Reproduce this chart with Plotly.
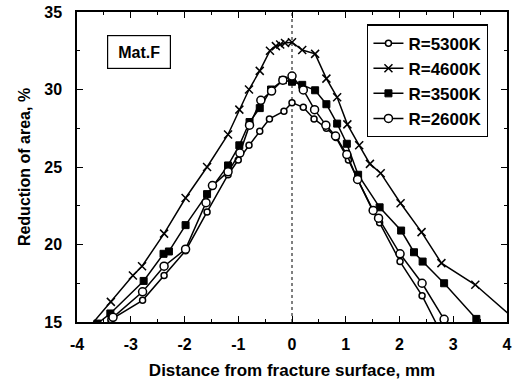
import plotly.graph_objects as go

# ---- data ----
x_5300 = [-3.6, -3.37, -2.78, -2.38, -1.98, -1.58, -1.19, -1.0, -0.8, -0.6, -0.42, -0.15, 0.0,
          0.21, 0.41, 0.64, 0.82, 1.05, 1.22, 1.5, 1.63, 2.01, 2.42, 2.95]
y_5300 = [14.4, 15.15, 16.4, 18.0, 19.6, 22.1, 24.5, 25.45, 26.4, 27.3, 28.1, 28.6, 29.15,
          28.85, 28.1, 27.5, 26.9, 25.45, 24.2, 22.2, 21.4, 18.9, 16.7, 13.1]

x_4600 = [-3.8, -3.37, -2.96, -2.79, -2.38, -1.98, -1.58, -1.19, -0.98, -0.80, -0.60, -0.41, -0.30,
          -0.22, -0.13, 0.0, 0.19, 0.43, 0.64, 0.84, 1.03, 1.25, 1.45, 1.65, 2.02, 2.41, 2.78, 3.41, 4.2]
y_4600 = [14.55, 16.3, 18.0, 18.6, 20.7, 23.0, 25.0, 27.1, 28.7, 30.0, 31.2, 32.5, 32.8,
          32.9, 33.0, 33.05, 32.55, 32.3, 30.7, 29.5, 27.75, 26.4, 25.2, 24.6, 22.66, 20.8, 18.8, 17.4, 15.0]

x_3500 = [-3.62, -3.38, -2.76, -2.39, -2.29, -1.98, -1.58, -1.19, -0.98, -0.79, -0.60, -0.39, -0.17,
          0.0, 0.19, 0.43, 0.64, 0.84, 1.02, 1.23, 1.63, 2.03, 2.27, 2.43, 2.83, 3.43]
y_3500 = [14.9, 15.55, 17.65, 19.4, 19.55, 21.25, 23.25, 25.1, 26.4, 27.9, 28.8, 30.0, 30.6,
          30.5, 30.3, 29.95, 29.05, 27.8, 26.5, 24.5, 22.4, 20.9, 19.5, 18.9, 17.5, 15.2]

x_2600 = [-3.33, -2.78, -2.38, -1.98, -1.6, -1.48, -1.19, -0.97, -0.79, -0.58, -0.38, -0.17, 0.0,
          0.21, 0.42, 0.63, 0.81, 1.02, 1.22, 1.51, 1.61, 2.01, 2.42, 2.83]
y_2600 = [15.3, 16.95, 18.6, 19.7, 22.7, 23.8, 24.7, 25.9, 27.7, 29.3, 29.9, 30.6, 30.87,
          29.97, 28.7, 27.7, 27.0, 25.8, 24.2, 22.2, 21.7, 19.4, 17.5, 15.17]

series_names = ["R=5300K", "R=4600K", "R=3500K", "R=2600K"]
x_ticks = [-4, -3, -2, -1, 0, 1, 2, 3, 4]
y_ticks = [15, 20, 25, 30, 35]
surface_x = 0

FONT = "Liberation Sans"
fig = go.Figure()

fig.add_trace(go.Scatter(x=x_5300, y=y_5300, name=series_names[0], mode="lines+markers",
                         line=dict(color="black", width=1.5),
                         marker=dict(symbol="circle", size=6, color="white",
                                     line=dict(color="black", width=1.5))))
fig.add_trace(go.Scatter(x=x_4600, y=y_4600, name=series_names[1], mode="lines+markers",
                         line=dict(color="black", width=1.5),
                         marker=dict(symbol="x-thin", size=8, color="black",
                                     line=dict(color="black", width=1.5))))
fig.add_trace(go.Scatter(x=x_3500, y=y_3500, name=series_names[2], mode="lines+markers",
                         line=dict(color="black", width=1.5),
                         marker=dict(symbol="square", size=7, color="black",
                                     line=dict(color="black", width=1))))
fig.add_trace(go.Scatter(x=x_2600, y=y_2600, name=series_names[3], mode="lines+markers",
                         line=dict(color="black", width=1.5),
                         marker=dict(symbol="circle", size=8, color="white",
                                     line=dict(color="black", width=1.5))))

fig.add_shape(type="line", xref="x", yref="paper", x0=surface_x, x1=surface_x, y0=0, y1=1,
              line=dict(color="black", width=1, dash="dot"), layer="below")

fig.add_annotation(text="Mat.F", xref="paper", yref="paper", x=0.145, y=0.871,
                   xanchor="center", yanchor="middle",
                   showarrow=False, font=dict(family=FONT, size=16, color="black", weight="bold"),
                   bordercolor="black", borderwidth=1.2, borderpad=7, width=48, height=18,
                   bgcolor="white")

axis_common = dict(showline=True, linecolor="black", linewidth=1.5, mirror="ticks",
                   ticks="inside", ticklen=6, tickwidth=1.2, tickcolor="black",
                   showgrid=False, zeroline=False,
                   tickfont=dict(family=FONT, size=16, color="black", weight="bold"))

fig.update_xaxes(range=[-4, 4], tickvals=x_ticks, ticktext=[str(v) for v in x_ticks],
                 minor=dict(dtick=0.5, tick0=0, ticks="inside", ticklen=3, tickcolor="black"),
                 ticklabelstandoff=7,
                 title=dict(text="Distance from fracture surface, mm", standoff=12,
                            font=dict(family=FONT, size=17, color="black", weight="bold")),
                 **axis_common)
fig.update_yaxes(range=[15, 35], tickvals=y_ticks, ticktext=[str(v) for v in y_ticks],
                 minor=dict(dtick=2.5, tick0=15, ticks="inside", ticklen=3, tickcolor="black"),
                 ticklabelstandoff=10,
                 title=dict(text="Reduction of area, %", standoff=10,
                            font=dict(family=FONT, size=16, color="black", weight="bold")),
                 **axis_common)

fig.update_layout(
    width=515, height=385,
    margin=dict(l=77, r=3, t=12, b=63),
    paper_bgcolor="white", plot_bgcolor="white",
    showlegend=True,
    legend=dict(x=0.675, y=0.96, xanchor="left", yanchor="top",
                bordercolor="black", borderwidth=1.2, bgcolor="white",
                font=dict(family=FONT, size=17, color="black", weight="bold"),
                tracegroupgap=0, itemwidth=30),
)

fig.write_html("out.html")
